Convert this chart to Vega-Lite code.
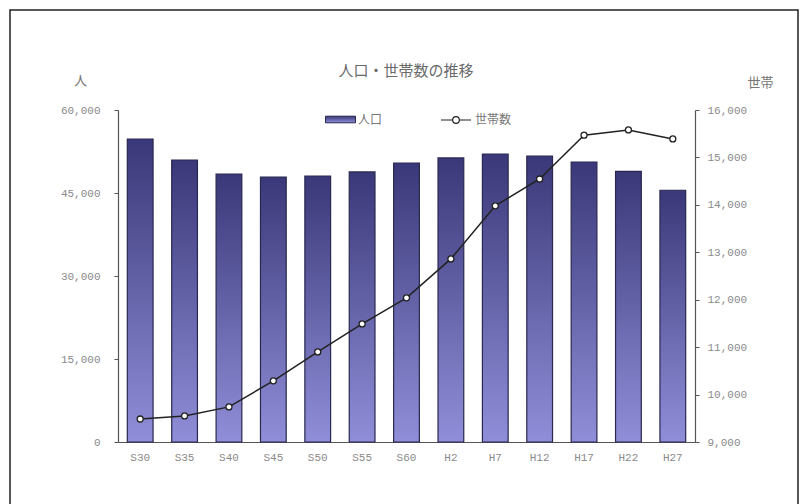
{
  "$schema": "https://vega.github.io/schema/vega-lite/v6.json",
  "autosize": "none",
  "width": 788,
  "height": 498,
  "padding": {"left": 10, "top": 10, "right": 2, "bottom": -4},
  "background": "white",
  "config": {
    "view": {"stroke": "#222222", "strokeWidth": 1.5},
    "font": "Noto Sans CJK JP"
  },
  "title": {
    "text": "人口・世帯数の推移",
    "anchor": "middle",
    "dy": 73,
    "dx": 2,
    "fontSize": 15,
    "fontWeight": "normal",
    "font": "Noto Sans CJK JP",
    "color": "#6a6a6a"
  },
  "data": {
    "values": [
      {"year": "S30", "pop": 54760, "hh": 9485},
      {"year": "S35", "pop": 50960, "hh": 9550},
      {"year": "S40", "pop": 48430, "hh": 9740},
      {"year": "S45", "pop": 47890, "hh": 10290},
      {"year": "S50", "pop": 48070, "hh": 10900},
      {"year": "S55", "pop": 48800, "hh": 11490},
      {"year": "S60", "pop": 50420, "hh": 12040},
      {"year": "H2", "pop": 51330, "hh": 12860},
      {"year": "H7", "pop": 52050, "hh": 13980},
      {"year": "H12", "pop": 51690, "hh": 14545},
      {"year": "H17", "pop": 50600, "hh": 15470},
      {"year": "H22", "pop": 48900, "hh": 15580},
      {"year": "H27", "pop": 45500, "hh": 15390}
    ]
  },
  "encoding": {
    "x": {
      "field": "year",
      "type": "nominal",
      "sort": null,
      "scale": {"range": [108, 685], "paddingInner": 0.42, "paddingOuter": 0.21},
      "axis": {
        "title": null,
        "orient": "bottom",
        "offset": -66,
        "labelAngle": 0,
        "ticks": false,
        "labelPadding": 9,
        "labelFont": "Liberation Mono",
        "labelFontSize": 11,
        "labelColor": "#8a8a8a",
        "domainColor": "#555555",
        "domainWidth": 1.2
      }
    }
  },
  "layer": [
    {
      "mark": {
        "type": "bar",
        "fill": {
          "gradient": "linear",
          "x1": 0, "y1": 0, "x2": 0, "y2": 1,
          "stops": [
            {"offset": 0, "color": "#3a3878"},
            {"offset": 1, "color": "#908ed8"}
          ]
        },
        "strokeWidth": 1.2
      },
      "encoding": {
        "y": {
          "field": "pop",
          "type": "quantitative",
          "scale": {"domain": [0, 60000], "range": [432, 100], "nice": false},
          "axis": {
            "orient": "left",
            "offset": -108,
            "title": "人",
            "titleAngle": 0,
            "titleX": -38,
            "titleY": 70,
            "titleAlign": "center",
            "titleBaseline": "middle",
            "titleFontSize": 13,
            "titleFontWeight": "normal",
            "titleColor": "#777777",
            "values": [0, 15000, 30000, 45000, 60000],
            "format": ",d",
            "grid": false,
            "tickSize": 4,
            "tickColor": "#555555",
            "labelPadding": 14,
            "labelFont": "Liberation Mono",
            "labelFontSize": 11,
            "labelColor": "#8a8a8a",
            "domainColor": "#555555",
            "domainWidth": 1.2
          }
        },
        "stroke": {
          "datum": "人口",
          "scale": {"domain": ["人口"], "range": ["#2a2850"]},
          "legend": {
            "title": null,
            "orient": "none",
            "legendX": 315,
            "legendY": 94,
            "padding": 0,
            "symbolType": "M-1,-0.22H1V0.22H-1Z",
            "symbolSize": 900,
            "symbolFillColor": "#3c3a7c",
            "symbolStrokeColor": "#222244",
            "symbolStrokeWidth": 1,
            "labelFont": "Noto Sans CJK JP",
            "labelFontSize": 12,
            "labelColor": "#777777",
            "labelOffset": 2
          }
        }
      }
    },
    {
      "mark": {"type": "line", "strokeWidth": 1.5},
      "encoding": {
        "y": {
          "field": "hh",
          "type": "quantitative",
          "scale": {"domain": [9000, 16000], "range": [432, 100], "nice": false},
          "axis": {
            "orient": "right",
            "offset": -103,
            "title": "世帯",
            "titleAngle": 0,
            "titleX": 65,
            "titleY": 72,
            "titleAlign": "center",
            "titleBaseline": "middle",
            "titleFontSize": 13,
            "titleFontWeight": "normal",
            "titleColor": "#777777",
            "values": [9000, 10000, 11000, 12000, 13000, 14000, 15000, 16000],
            "format": ",d",
            "grid": false,
            "tickSize": 4,
            "tickColor": "#555555",
            "labelPadding": 8,
            "labelFont": "Liberation Mono",
            "labelFontSize": 11,
            "labelColor": "#8a8a8a",
            "domainColor": "#555555",
            "domainWidth": 1.2
          }
        },
        "color": {
          "datum": "世帯数",
          "scale": {"domain": ["世帯数"], "range": ["#222222"]},
          "legend": {
            "title": null,
            "orient": "none",
            "legendX": 430,
            "legendY": 94,
            "padding": 0,
            "symbolType": "M-1,0H-0.22M0.22,0H1M-0.22,0A0.22,0.22 0 1,0 0.22,0A0.22,0.22 0 1,0 -0.22,0Z",
            "symbolSize": 900,
            "symbolFillColor": "white",
            "symbolStrokeColor": "#222222",
            "symbolStrokeWidth": 1.2,
            "labelFont": "Noto Sans CJK JP",
            "labelFontSize": 12,
            "labelColor": "#777777",
            "labelOffset": 3
          }
        }
      }
    },
    {
      "mark": {"type": "point", "filled": true, "fill": "white", "stroke": "#222222", "strokeWidth": 1.3, "size": 36, "opacity": 1},
      "encoding": {
        "y": {"field": "hh", "type": "quantitative", "scale": {"domain": [9000, 16000], "range": [432, 100], "nice": false}, "axis": null}
      }
    }
  ],
  "resolve": {"scale": {"y": "independent"}}
}
